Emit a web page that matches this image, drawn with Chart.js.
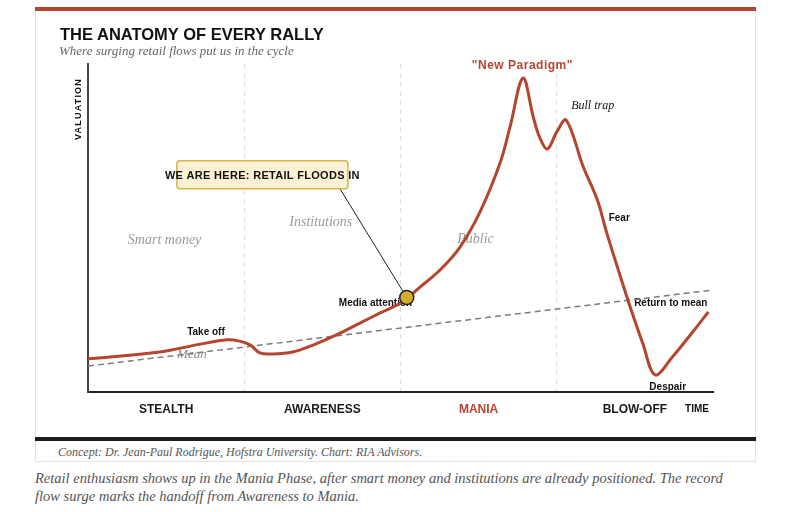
<!DOCTYPE html>
<html>
<head>
<meta charset="utf-8">
<script src="https://cdn.jsdelivr.net/npm/chart.js@4.4.0/dist/chart.umd.min.js"></script>
<style>
  body { margin: 0; width: 790px; height: 512px; background: #fff; position: relative; overflow: hidden; font-family: "Liberation Sans", Arial, sans-serif; }
  .card { position: absolute; left: 35px; top: 7px; width: 719px; height: 454px; border: 1px solid #e4e4e4; border-top: none; }
  .topbar { position: absolute; left: 35px; top: 7px; width: 721px; height: 4px; background: #b5452f; }
  .bottombar { position: absolute; left: 35px; top: 437px; width: 721px; height: 4px; background: #1c1c1c; }
  #chart { position: absolute; left: 0; top: 0; }
  .title { position: absolute; left: 60px; top: 26px; font: bold 16.5px/16px "Liberation Sans", Arial, sans-serif; color: #111; white-space: nowrap; }
  .subtitle { position: absolute; left: 59px; top: 44px; font: italic 13px/14px "Liberation Serif", serif; color: #666; white-space: nowrap; }
  .credit { position: absolute; left: 58px; top: 446px; font: italic 12px/12px "Liberation Serif", serif; color: #555; white-space: nowrap; }
  .caption { position: absolute; left: 35px; top: 469px; width: 740px; font: italic 14.5px/18px "Liberation Serif", serif; color: #555; }
</style>
</head>
<body>
<div class="card"></div>
<div class="topbar"></div>
<div class="bottombar"></div>
<canvas id="chart" width="790" height="440"></canvas>
<div class="title">THE ANATOMY OF EVERY RALLY</div>
<div class="subtitle">Where surging retail flows put us in the cycle</div>
<div class="credit">Concept: Dr. Jean-Paul Rodrigue, Hofstra University. Chart: RIA Advisors.</div>
<div class="caption">Retail enthusiasm shows up in the Mania Phase, after smart money and institutions are already positioned. The record<br>flow surge marks the handoff from Awareness to Mania.</div>
<script>
// phases along the time axis
const phases = ["STEALTH", "AWARENESS", "MANIA", "BLOW-OFF"];
const phaseTicks = [0, 0.5, 1, 1.5, 2, 2.5, 3, 3.5, 4];

// the cycle curve (time, valuation)
const cycleX = [0, 0.46, 0.72, 0.89, 0.97, 1.04, 1.10, 1.18, 1.31, 1.44, 1.59, 1.74, 1.87, 2.00, 2.125, 2.253, 2.381, 2.509, 2.637, 2.701, 2.784, 2.85, 2.89, 2.94, 3.00, 3.06, 3.17, 3.26, 3.32, 3.40, 3.47, 3.55, 3.63, 3.74, 3.87, 3.97];
const cycleY = [10.1, 12.2, 14.6, 15.9, 15.5, 14.3, 11.9, 11.6, 12.2, 14.3, 17.4, 21.0, 24.1, 27.1, 32.0, 37.2, 44.2, 54.9, 69.8, 80.8, 95.7, 83.8, 77.7, 74.1, 79.3, 82.9, 68.6, 58.5, 48.5, 36.3, 25.9, 14.9, 5.2, 10.7, 18.3, 24.4];

// mean trend line
const meanX = [0, 4];
const meanY = [7.9, 31.1];

// "we are here" marker
const hereX = [2.04];
const hereY = [28.8];

const pts = (xs, ys) => xs.map((v, i) => ({ x: v, y: ys[i] }));

const grey = 'italic 14px "Liberation Serif"';
const stage = 'bold 10px "Liberation Sans"';
const notes = [
  { text: "Smart money", x: 0.49, y: 46.3, font: grey, color: "#9a9a9a" },
  { text: "Institutions", x: 1.49, y: 51.6, font: grey, color: "#9a9a9a" },
  { text: "Public", x: 2.48, y: 46.6, font: grey, color: "#9a9a9a" },
  { text: "Mean", x: 0.665, y: 11.3, font: 'italic 13px "Liberation Serif"', color: "#8a8a8a" },
  { text: "Take off", x: 0.755, y: 18.3, font: stage, color: "#111" },
  { text: "Media attention", x: 1.84, y: 27.2, font: stage, color: "#111" },
  { text: "Fear", x: 3.40, y: 53.1, font: stage, color: "#111" },
  { text: "Return to mean", x: 3.73, y: 27.2, font: stage, color: "#111" },
  { text: "Despair", x: 3.71, y: 1.6, font: stage, color: "#111" },
  { text: "Bull trap", x: 3.23, y: 87.3, font: 'italic 12px "Liberation Serif"', color: "#111" },
  { text: "\"New Paradigm\"", x: 2.78, y: 99.5, font: 'bold 12px "Liberation Sans"', color: "#b5452f", spacing: "0.5px" }
];
const hereBox = { text: "WE ARE HERE: RETAIL FLOODS IN", x: 1.116, y: 66.2, w: 171, h: 28 };
const hereAnchor = { x: 1.606, y: 62.5 };

const annotations = {
  id: "annotations",
  beforeDatasetsDraw(chart) {
    const { ctx, scales: { x, y } } = chart;
    ctx.save();
    // connector from the box to the marker
    ctx.strokeStyle = "#222";
    ctx.lineWidth = 1;
    ctx.beginPath();
    ctx.moveTo(x.getPixelForValue(hereAnchor.x), y.getPixelForValue(hereAnchor.y));
    ctx.lineTo(x.getPixelForValue(hereX[0]), y.getPixelForValue(hereY[0]));
    ctx.stroke();

    ctx.textAlign = "center";
    ctx.textBaseline = "middle";
    notes.forEach((n) => {
      ctx.font = n.font;
      ctx.fillStyle = n.color;
      ctx.letterSpacing = n.spacing || "0px";
      ctx.fillText(n.text, x.getPixelForValue(n.x), y.getPixelForValue(n.y));
    });

    // axis names
    ctx.letterSpacing = "0px";
    ctx.font = 'bold 10px "Liberation Sans"';
    ctx.fillStyle = "#111";
    ctx.fillText("TIME", x.right - 16, x.top + 17);
    ctx.translate(x.left - 9, y.top + 45);
    ctx.rotate(-Math.PI / 2);
    ctx.font = 'bold 9px "Liberation Sans"';
    ctx.letterSpacing = "1.2px";
    ctx.fillText("VALUATION", 0, 0);
    ctx.restore();
  },
  afterDatasetsDraw(chart) {
    const { ctx, scales: { x, y } } = chart;
    const cx = x.getPixelForValue(hereBox.x);
    const cy = y.getPixelForValue(hereBox.y);
    ctx.save();
    ctx.fillStyle = "#fbf1d4";
    ctx.strokeStyle = "#d8b449";
    ctx.lineWidth = 1.5;
    ctx.beginPath();
    ctx.roundRect(cx - hereBox.w / 2, cy - hereBox.h / 2, hereBox.w, hereBox.h, 3);
    ctx.fill();
    ctx.stroke();
    ctx.font = 'bold 11px "Liberation Sans"';
    ctx.letterSpacing = "0.3px";
    ctx.fillStyle = "#111";
    ctx.textAlign = "center";
    ctx.textBaseline = "middle";
    ctx.fillText(hereBox.text, cx, cy + 1);
    ctx.restore();
  }
};

new Chart(document.getElementById("chart"), {
  type: "line",
  data: {
    datasets: [
      {
        label: "Here",
        data: pts(hereX, hereY),
        showLine: false,
        pointRadius: 7,
        pointBackgroundColor: "#d4ab2c",
        pointBorderColor: "#222",
        pointBorderWidth: 1.5
      },
      {
        label: "Cycle",
        data: pts(cycleX, cycleY),
        borderColor: "#b5452f",
        borderWidth: 3,
        pointRadius: 0,
        tension: 0.35,
        fill: false
      },
      {
        label: "Mean",
        data: pts(meanX, meanY),
        borderColor: "#7c7c7c",
        borderWidth: 1.5,
        borderDash: [6, 4],
        pointRadius: 0,
        fill: false
      }
    ]
  },
  options: {
    responsive: false,
    animation: false,
    events: [],
    layout: { padding: { left: 88, right: 77, top: 64, bottom: 10 } },
    plugins: { legend: { display: false }, tooltip: { enabled: false } },
    scales: {
      x: {
        type: "linear",
        min: 0,
        max: 4,
        afterBuildTicks: (s) => { s.ticks = phaseTicks.map((v) => ({ value: v })); },
        afterFit: (s) => { s.height = 38; },
        ticks: {
          autoSkip: false,
          maxRotation: 0,
          padding: 10,
          font: { family: "Liberation Sans", size: 12, weight: "bold" },
          color: (c) => (c.tick && phases[Math.floor(c.tick.value)] === "MANIA" && !Number.isInteger(c.tick.value) ? "#b5452f" : "#1a1a1a"),
          callback: (v) => (Number.isInteger(v) ? "" : phases[Math.floor(v)])
        },
        grid: {
          drawTicks: false,
          lineWidth: 1,
          color: (c) => (c.tick && Number.isInteger(c.tick.value) && c.tick.value > 0 && c.tick.value < 4 ? "#dedede" : "rgba(0,0,0,0)")
        },
        border: { color: "#222", width: 2, dash: [5, 4] }
      },
      y: {
        min: 0,
        max: 100,
        afterFit: (s) => { s.width = 0; },
        ticks: { display: false },
        grid: { display: false },
        border: { color: "#444", width: 2 }
      }
    }
  },
  plugins: [annotations]
});
</script>
</body>
</html>
